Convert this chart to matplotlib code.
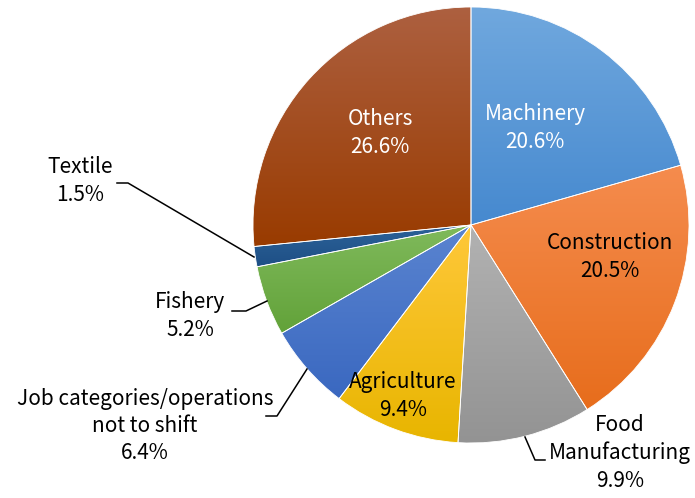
import matplotlib
matplotlib.use("Agg")
import matplotlib.pyplot as plt
import matplotlib.colors as mcolors
import numpy as np

plt.rcParams['font.family'] = ['Noto Sans CJK JP', 'DejaVu Sans']

categories = ["Machinery", "Construction", "Food\nManufacturing", "Agriculture",
              "Job categories/operations\nnot to shift", "Fishery", "Textile", "Others"]
shares = [20.6, 20.5, 9.9, 9.4, 6.4, 5.2, 1.5, 26.6]

# gradient (top colour, bottom colour) for each slice
top_colors = ["#70a8de", "#f58c4e", "#b2b2b2", "#ffc83a", "#5a84d0", "#80ba5c", "#2c6299", "#ad6040"]
bot_colors = ["#4689cf", "#e76d1c", "#939393", "#e8b500", "#3a68c0", "#62a239", "#1e4f85", "#993b00"]

W, H = 695, 498
fig = plt.figure(figsize=(W / 100, H / 100), dpi=100)
ax = fig.add_axes([0, 0, 1, 1])

cx, cy, r = 471, H - 225, 218
wedges, _ = ax.pie(shares, startangle=90, counterclock=False, center=(cx, cy),
                   radius=r, frame=True,
                   wedgeprops=dict(edgecolor="white", linewidth=0.6))

# Excel-like vertical gradient inside each slice
for w, c1, c2 in zip(wedges, top_colors, bot_colors):
    bb = w.get_path().get_extents(w.get_patch_transform())
    cmap = mcolors.LinearSegmentedColormap.from_list("g", [c2, c1])
    grad = np.linspace(0, 1, 256).reshape(-1, 1)
    im = ax.imshow(grad, cmap=cmap, origin="lower", aspect="auto",
                   extent=(bb.x0, bb.x1, bb.y0, bb.y1), zorder=1)
    im.set_clip_path(w)
    w.set_facecolor("none")
    w.set_zorder(2)

ax.set_xlim(0, W)
ax.set_ylim(0, H)
ax.set_aspect("equal")
ax.axis("off")

fs = 15
def lab(x, y, text, color="black"):
    ax.text(x, H - y, text, ha="center", va="center", fontsize=fs, color=color,
            linespacing=1.32, zorder=5)

pct = [f"{v:.1f}%" for v in shares]
lab(535, 128, f"Machinery\n{pct[0]}", "white")
lab(380, 133, f"Others\n{pct[7]}", "white")
lab(610, 257, f"Construction\n{pct[1]}")
lab(403, 396, f"Agriculture\n{pct[3]}")
lab(620, 453, f"Food\nManufacturing\n{pct[2]}")
lab(80, 181, f"Textile\n{pct[6]}")
lab(190, 316, f"Fishery\n{pct[5]}")
lab(145, 426, f"Job categories/operations\nnot to shift\n{pct[4]}")

# leader lines
leaders = [
    [(117, 183), (128, 183), (254, 257)],
    [(232, 311), (246, 311), (267, 301)],
    [(266, 416), (277, 416), (307, 369)],
    [(525, 437), (535, 460), (545, 460)],
]
for pts in leaders:
    xs = [p[0] for p in pts]
    ys = [H - p[1] for p in pts]
    ax.plot(xs, ys, color="black", lw=1.1, zorder=4)

fig.savefig("out.png", dpi=100)
